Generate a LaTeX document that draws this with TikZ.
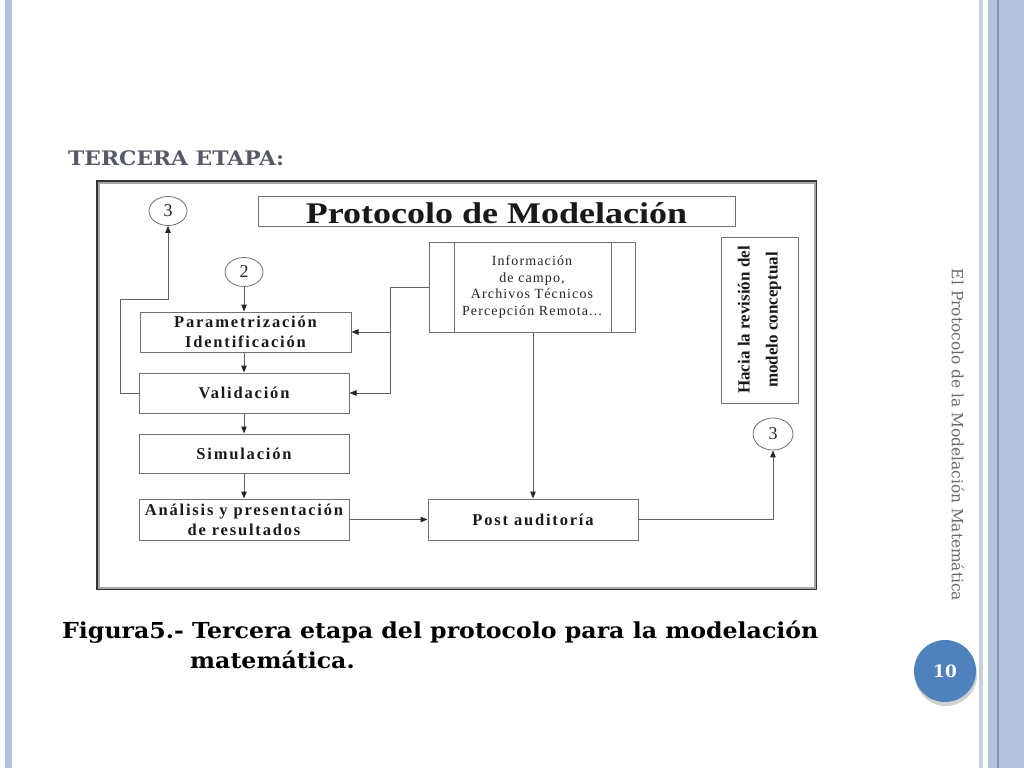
\documentclass[tikz,border=0pt]{standalone}
\usepackage{fontspec}
\usetikzlibrary{shapes.geometric,arrows.meta,calc}
\newfontfamily\tnr{Liberation Serif}
\newfontfamily\boxfont[LetterSpace=11]{Liberation Serif}
\newfontfamily\infofont[LetterSpace=8]{Liberation Serif}
\newfontfamily\titlefont[FakeStretch=1.2]{Liberation Serif}
\newfontfamily\dvs{DejaVu Serif}
\newfontfamily\dvswide[FakeStretch=1.09]{DejaVu Serif}
\newfontfamily\dvscap[FakeStretch=1.075]{DejaVu Serif}
\definecolor{barblue}{HTML}{B3C3DB}
\definecolor{barlight}{HTML}{C3D1E5}
\definecolor{bardark}{HTML}{7F98C0}
\definecolor{boxgray}{HTML}{707070}
\definecolor{linegray}{HTML}{606060}
\definecolor{pnblue}{HTML}{4F81BD}
\definecolor{headgray}{HTML}{555A66}
\definecolor{sidegray}{HTML}{6A6A6A}
\begin{document}
\begin{tikzpicture}[x=1pt,y=-1pt,
  stepbox/.style={draw=boxgray, line width=1, minimum width=210, minimum height=40, inner sep=0,
    align=center, text=black!90, font=\boxfont\bfseries\fontsize{16.5}{20}\selectfont},
  numnode/.style={ellipse, draw=boxgray, line width=0.8, minimum width=38, minimum height=29, inner sep=0,
    text=black!85, font=\tnr\fontsize{18}{18}\selectfont},
  conn/.style={draw=linegray, line width=1},
  arr/.style={conn, -{Triangle[length=7pt,width=5.5pt,color=black!85]}},
  boxline/.style={draw=boxgray, line width=1}]
\useasboundingbox (0,0) rectangle (1024,768);
\fill[white] (0,0) rectangle (1024,768);
% side bars
\fill[barblue] (5,0) rectangle (12,768);
\fill[barlight] (979,0) rectangle (983,768);
\fill[barblue] (988,0) rectangle (1024,768);
\draw[bardark, line width=1.5] (998,0) -- (998,768);
% heading
\node[anchor=base west, inner sep=0, text=headgray, font=\dvswide\bfseries\fontsize{20}{22}\selectfont] (head) at (68,165) {TERCERA ETAPA:};
% frame
\node[draw=black!80, line width=2, minimum width=719, minimum height=408, inner sep=0] (frame) at (456.5,385) {};
\draw[gray!70, line width=2] ($(frame.north west)+(2.5,2.5)$) rectangle ($(frame.south east)+(-2.5,-2.5)$);
% title
\node[draw=boxgray, line width=1, minimum width=477, minimum height=30, inner sep=0, text height=27, text depth=3,
  text=black!90, font=\titlefont\bfseries\fontsize{30}{30}\selectfont] (title) at (496.5,211) {Protocolo de Modelación};
% nodes
\node[numnode] (c3a) at (168,211) {3};
\node[numnode] (c2) at (244,272) {2};
\node[numnode, minimum width=40, minimum height=32] (c3b) at (773,434) {3};
\node[stepbox, minimum width=211] (param) at (245.5,332) {Parametrización\\Identificación};
\node[stepbox] (valid) at (244,393) {Validación};
\node[stepbox, minimum height=39] (sim) at (244,453.5) {Simulación};
\node[stepbox, minimum height=41] (anal) at (244,519.5) {Análisis y presentación\\de resultados};
\node[stepbox, minimum height=41] (post) at (533,519.5) {Post auditoría};
\node[draw=boxgray, line width=1, minimum width=206, minimum height=90, inner sep=0, align=center,
  text=black!85, font=\infofont\fontsize{14}{16.5}\selectfont] (info) at (532,287)
  {Información\\de campo,\\Archivos Técnicos\\Percepción Remota...};
\draw[boxline] ($(info.north west)+(26,0)$) -- ($(info.south west)+(26,0)$);
\draw[boxline] ($(info.north east)+(-24,0)$) -- ($(info.south east)+(-24,0)$);
\node[draw=boxgray, line width=1, minimum width=77, minimum height=166, inner sep=0] (hacia) at (759.5,320) {};
\node[rotate=90, align=center, inner sep=0, text=black!90, font=\tnr\bfseries\fontsize{17}{28}\selectfont] (haciatxt) at (hacia.center)
  {Hacia la revisión del\\modelo conceptual};
% connectors
\coordinate (bus) at (390,288);
\coordinate (fb) at (120,299);
\draw[arr] (c2.south) -- (c2.south |- param.north);
\draw[arr] (param.south -| valid.north) -- (valid.north);
\draw[arr] (valid.south) -- (sim.north);
\draw[arr] (sim.south) -- (anal.north);
\draw[arr] (anal.east) -- (post.west);
\draw[arr] (info.south -| post.north) -- (post.north);
\draw[arr] (post.east) -| (c3b.south);
\draw[arr] (info.west) -| (bus |- valid.east) -- (valid.east);
\draw[arr] (bus |- param.east) -- (param.east);
\draw[arr] (valid.west) -| (fb) -| (c3a.south);
% caption
\node[anchor=base west, inner sep=0, text=black, font=\dvscap\bfseries\fontsize{22}{30}\selectfont] (cap1) at (62,638)
  {Figura5.- Tercera etapa del protocolo para la modelación};
\node[anchor=base west, inner sep=0, text=black, font=\dvscap\bfseries\fontsize{22}{30}\selectfont] (cap2) at (190,668)
  {matemática.};
% side text
\node[rotate=-90, inner sep=0, text=sidegray, font=\dvs\fontsize{15.4}{15.4}\selectfont] (side) at (958,435)
  {El Protocolo de la Modelación Matemática};
% page number
\fill[black!18] (946,675) circle (31);
\node[circle, fill=pnblue, minimum size=62, inner sep=0, text=white, font=\dvs\bfseries\fontsize{17}{17}\selectfont] (pg) at (945,671) {10};
\end{tikzpicture}
\end{document}
